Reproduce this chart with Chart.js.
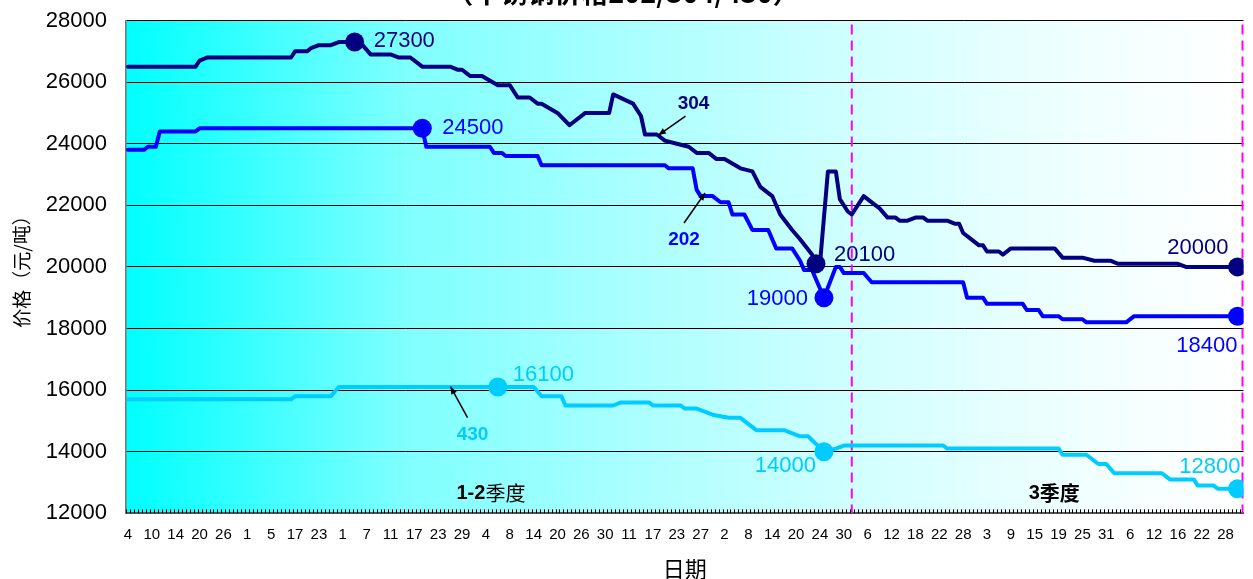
<!DOCTYPE html>
<html>
<head>
<meta charset="utf-8">
<script src="https://cdn.jsdelivr.net/npm/chart.js@4.4.0/dist/chart.umd.min.js"></script>
<style>
  html, body { margin: 0; padding: 0; background: #fff; }
  #wrap { width: 1253px; height: 579px; position: relative; }
</style>
</head>
<body>
<div id="wrap"><canvas id="chart" width="1253" height="579"></canvas></div>
<script>
// tick labels (one label every 6 trading days)
const dateLabels = ['4','10','14','20','26','1','5','17','23','1','7','11','17','23','29','4','8','14','20','26','30',
  '11','17','23','27','2','8','14','20','24','30','6','12','18','22','28','3','9','15','19','25','31','6','12','16','22','28'];
const yTicks = [12000, 14000, 16000, 18000, 20000, 22000, 24000, 26000, 28000];
const dayCount = 281;
const quarterSplit = 182;

// series: [day index, price]
const s304 = [[0,26500],[17,26500],[18,26700],[20,26800],[41,26800],[42,27000],[45,27000],[46,27100],[48,27200],[51,27200],
  [53,27300],[57,27300],[59,27200],[61,26900],[66,26900],[68,26800],[71,26800],[74,26500],[81,26500],[83,26400],[84,26400],
  [86,26200],[89,26200],[93,25900],[96,25900],[98,25500],[101,25500],[103,25300],[104,25300],[108,25000],[111,24600],
  [115,25000],[121,25000],[122,25600],[127,25300],[129,24900],[130,24300],[133,24300],[135,24100],[138,24000],[141,23900],
  [143,23700],[146,23700],[148,23500],[150,23500],[154,23200],[157,23100],[159,22600],[162,22300],[164,21700],[167,21200],
  [169,20900],[172,20400],[173,20100],[174,20100],[176,23100],[178,23100],[179,22200],[181,21800],[182,21700],[185,22300],
  [188,22000],[189,21900],[191,21600],[193,21600],[194,21500],[196,21500],[198,21600],[200,21600],[201,21500],[206,21500],
  [208,21400],[209,21400],[210,21100],[212,20900],[214,20700],[215,20700],[216,20500],[219,20500],[220,20400],[222,20600],
  [233,20600],[235,20300],[240,20300],[243,20200],[247,20200],[249,20100],[264,20100],[266,20000],[279,20000]];
const s202 = [[0,23800],[4,23800],[5,23900],[7,23900],[8,24400],[17,24400],[18,24500],[74,24500],[75,23900],[91,23900],
  [92,23700],[94,23700],[95,23600],[103,23600],[104,23300],[135,23300],[136,23200],[142,23200],[143,22500],[144,22300],
  [147,22300],[149,22100],[151,22100],[152,21700],[155,21700],[157,21200],[161,21200],[163,20600],[167,20600],[169,20200],
  [170,19900],[172,19900],[175,19000],[178,20000],[179,20000],[180,19800],[185,19800],[187,19500],[210,19500],[211,19000],
  [215,19000],[216,18800],[225,18800],[226,18600],[229,18600],[230,18400],[234,18400],[235,18300],[240,18300],[241,18200],
  [251,18200],[253,18400],[279,18400]];
const s430 = [[0,15700],[41,15700],[42,15800],[51,15800],[53,16100],[102,16100],[104,15800],[109,15800],[110,15500],
  [122,15500],[124,15600],[131,15600],[132,15500],[139,15500],[140,15400],[143,15400],[147,15200],[151,15100],[154,15100],
  [158,14700],[165,14700],[169,14500],[171,14500],[175,14000],[178,14100],[180,14200],[205,14200],[206,14100],[234,14100],
  [235,13900],[241,13900],[244,13600],[246,13600],[248,13300],[260,13300],[262,13100],[268,13100],[269,12900],[273,12900],
  [274,12800],[279,12800]];

// highlighted points
const mk304 = [[57,27300],[173,20100],[279,20000]];
const mk202 = [[74,24500],[175,19000],[279,18400]];
const mk430 = [[93,16100],[175,14000],[279,12800]];

const C304 = '#000080', C202 = '#0000FF', C430 = '#00CCFF';
const NUM = '"Liberation Sans", Arial, sans-serif';
const CJK = '"Noto Sans CJK SC", sans-serif';

const toXY = arr => arr.map(p => ({x: p[0], y: p[1]}));

// value labels beside markers: [markers, color, align, dx, dy]
const valueLabels = [
  [mk304, C304, ['left', 'left', 'right'], [19, 18, -9], [-1, -9, -19]],
  [mk202, C202, ['left', 'right', 'right'], [20, -16, 0], [0, 1, 30]],
  [mk430, C430, ['left', 'right', 'right'], [15, -8, 3], [-12, 14, -22]]
];
// series name callouts: name, color, arrow tip [day, price], label offset, tail offset
const callouts = [
  ['304', C304, [133.4, 24280], [35, -31], [27, -19]],
  ['202', C202, [145.1, 22400], [-21, 47], [-21, 30]],
  ['430', C430, [81.1, 16110], [22, 48], [17, 31]]
];

const lineDs = (data, color) => ({
  data: toXY(data), borderColor: color, borderWidth: 4, pointRadius: 0,
  tension: 0, fill: false, borderJoinStyle: 'round', borderCapStyle: 'round'
});
const markDs = (data, color) => ({
  data: toXY(data), showLine: false, pointRadius: 9.5, pointBackgroundColor: color,
  pointBorderWidth: 0, borderColor: color
});

const deco = {
  id: 'deco',
  beforeDraw(chart) {
    const {ctx, chartArea: a} = chart;
    const g = ctx.createLinearGradient(a.left, 0, a.right, 0);
    g.addColorStop(0, '#00ffff');
    g.addColorStop(0.25, '#80ffff');
    g.addColorStop(0.5, '#b4ffff');
    g.addColorStop(0.66, '#d2ffff');
    g.addColorStop(0.85, '#f0ffff');
    g.addColorStop(1, '#ffffff');
    ctx.save();
    ctx.fillStyle = g;
    ctx.fillRect(a.left, a.top, a.right - a.left, a.bottom - a.top);
    ctx.restore();
  },
  beforeDatasetsDraw(chart) {
    const {ctx, chartArea: a, scales: {x}} = chart;
    ctx.save();
    ctx.strokeStyle = '#ff00ff';
    ctx.lineWidth = 2;
    ctx.setLineDash([10, 6]);
    [quarterSplit, dayCount - 0.5].forEach(v => {
      const px = Math.min(x.getPixelForValue(v), a.right - 1);
      ctx.beginPath();
      ctx.moveTo(px, a.top + 4);
      ctx.lineTo(px, a.bottom);
      ctx.stroke();
    });
    ctx.restore();
  },
  afterDatasetsDraw(chart) {
    const {ctx, chartArea: a, scales: {x, y}} = chart;
    ctx.save();
    // small inner ticks on the category axis
    ctx.strokeStyle = '#000';
    ctx.lineWidth = 1;
    ctx.beginPath();
    for (let i = 0; i < dayCount; i++) {
      const px = Math.round(x.getPixelForValue(i - 0.5)) + 0.5;
      ctx.moveTo(px, a.bottom);
      ctx.lineTo(px, a.bottom - 4);
    }
    ctx.stroke();

    // value labels
    ctx.font = '22px ' + NUM;
    ctx.textBaseline = 'middle';
    valueLabels.forEach(([mk, color, al, dx, dy]) => {
      mk.forEach((p, i) => {
        ctx.fillStyle = color;
        ctx.textAlign = al[i];
        ctx.fillText(String(p[1]), x.getPixelForValue(p[0]) + dx[i], y.getPixelForValue(p[1]) + dy[i]);
      });
    });

    // callouts with arrows
    callouts.forEach(([name, color, tip, lo, to]) => {
      const tx = x.getPixelForValue(tip[0]), ty = y.getPixelForValue(tip[1]);
      ctx.fillStyle = color;
      ctx.font = 'bold 19px ' + NUM;
      ctx.textAlign = 'center';
      ctx.fillText(name, tx + lo[0], ty + lo[1]);
      const sx = tx + to[0], sy = ty + to[1];
      ctx.strokeStyle = '#000';
      ctx.fillStyle = '#000';
      ctx.lineWidth = 1.5;
      ctx.beginPath();
      ctx.moveTo(sx, sy);
      ctx.lineTo(tx, ty);
      ctx.stroke();
      const ang = Math.atan2(ty - sy, tx - sx);
      ctx.beginPath();
      ctx.moveTo(tx, ty);
      ctx.lineTo(tx - 8 * Math.cos(ang - 0.4), ty - 8 * Math.sin(ang - 0.4));
      ctx.lineTo(tx - 8 * Math.cos(ang + 0.4), ty - 8 * Math.sin(ang + 0.4));
      ctx.closePath();
      ctx.fill();
    });

    // quarter captions
    ctx.fillStyle = '#000';
    ctx.textAlign = 'left';
    const q1 = x.getPixelForValue(82.6), qy = a.bottom - 20;
    ctx.font = 'bold 20px ' + NUM;
    ctx.fillText('1-2', q1, qy);
    const w12 = ctx.measureText('1-2').width;
    ctx.font = '20px ' + CJK;
    ctx.fillText('季度', q1 + w12, qy);
    const q3 = x.getPixelForValue(226.5);
    ctx.font = 'bold 20px ' + NUM;
    ctx.fillText('3', q3, qy);
    const w3 = ctx.measureText('3').width;
    ctx.font = 'bold 20px ' + CJK;
    ctx.fillText('季度', q3 + w3, qy);

    // axis titles
    ctx.textAlign = 'center';
    ctx.font = '22px ' + CJK;
    ctx.fillText('日期', (a.left + a.right) / 2, 569);
    ctx.save();
    ctx.translate(22, 267);
    ctx.rotate(-Math.PI / 2);
    ctx.font = '19px ' + CJK;
    ctx.fillText('价格（元/吨）', 0, 0);
    ctx.restore();

    // chart title (cut by the top edge)
    ctx.font = 'bold 27px ' + CJK;
    ctx.textBaseline = 'alphabetic';
    ctx.fillText('（不锈钢价格202/304/430）', 623, 3);
    ctx.restore();
  }
};

new Chart(document.getElementById('chart'), {
  type: 'line',
  data: {
    datasets: [
      markDs(mk304, C304), markDs(mk202, C202), markDs(mk430, C430),
      lineDs(s304, C304), lineDs(s202, C202), lineDs(s430, C430)
    ]
  },
  options: {
    responsive: false,
    animation: false,
    devicePixelRatio: 1,
    layout: { padding: { top: 20.5, right: 8.3, left: 0, bottom: 0 } },
    plugins: { legend: { display: false }, tooltip: { enabled: false } },
    scales: {
      x: {
        type: 'linear',
        min: -0.5,
        max: dayCount - 0.5,
        afterBuildTicks: s => { s.ticks = dateLabels.map((_, i) => ({ value: i * 6 })); },
        afterFit: s => { s.height = 65.7; s.paddingLeft = 0; s.paddingRight = 0; },
        ticks: {
          autoSkip: false, maxRotation: 0, padding: 13, color: '#000',
          font: { family: NUM, size: 15 },
          callback: v => dateLabels[Math.round(v / 6)]
        },
        grid: { display: false, drawTicks: false },
        border: { display: true, color: '#555', width: 2 }
      },
      y: {
        min: 12000,
        max: 28000,
        afterBuildTicks: s => { s.ticks = yTicks.map(v => ({ value: v })); },
        afterFit: s => { s.width = 126; s.paddingTop = 0; s.paddingBottom = 0; },
        ticks: {
          padding: 19, color: '#000',
          font: { family: NUM, size: 22 },
          callback: v => String(v)
        },
        grid: { color: '#000', lineWidth: 1, drawTicks: false },
        border: { display: true, color: '#777', width: 1.5 }
      }
    }
  },
  plugins: [deco]
});
</script>
</body>
</html>
